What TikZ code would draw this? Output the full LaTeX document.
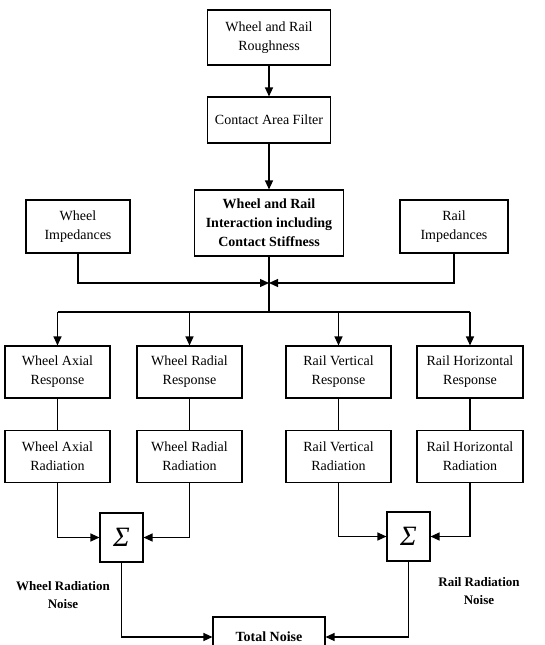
\documentclass[tikz,border=0pt]{standalone}
\usepackage{fontspec}
\setmainfont{Liberation Serif}
\usetikzlibrary{positioning,calc,arrows.meta}
\tikzset{>={Triangle[length=9pt,width=8pt]}}
\tikzset{block/.style={draw,line width=1.1pt,align=center,inner sep=2pt,
    font=\fontsize{14}{19}\selectfont},
  resp/.style={block,minimum width=105,minimum height=52},
  sumbox/.style={block,minimum width=43,minimum height=49,font=\fontsize{28}{28}\selectfont\itshape},
  note/.style={align=center,font=\fontsize{13}{18}\selectfont\bfseries}}

\begin{document}
\begin{tikzpicture}[x=1pt,y=-1pt,line width=1.2pt]
\useasboundingbox (0,0) rectangle (545,645);

% Top chain
\node[block,minimum width=123,minimum height=55] (rough) at (269,37.5) {Wheel and Rail\\Roughness};
\node[block,minimum width=123,minimum height=46] (filter) at (269,120) {Contact Area Filter};
\node[block,minimum width=149,minimum height=66,font=\fontsize{14}{19}\selectfont\bfseries] (inter) at (269,223)
  {Wheel and Rail\\Interaction including\\Contact Stiffness};

% Impedances
\node[block,minimum width=104,minimum height=53] (wimp) at (78,226.5) {Wheel\\Impedances};
\node[block,minimum width=108,minimum height=53] (rimp) at (454,226.5) {Rail\\Impedances};

% Responses
\node[resp] (waxr) at (57.5,372) {Wheel Axial\\Response};
\node[resp] (wradr) at (189.5,372) {Wheel Radial\\Response};
\node[resp] (rvertr) at (338.5,372) {Rail Vertical\\Response};
\node[resp,minimum width=106] (rhorr) at (470,372) {Rail Horizontal\\Response};

% Radiation
\node[resp] (waxd) at (57.5,456.5) {Wheel Axial\\Radiation};
\node[resp] (wradd) at (189.5,456.5) {Wheel Radial\\Radiation};
\node[resp] (rvertd) at (338.5,456.5) {Rail Vertical\\Radiation};
\node[resp,minimum width=106] (rhord) at (470,456.5) {Rail Horizontal\\Radiation};

% Summation and total
\node[sumbox] (sigL) at (121.5,537.5) {Σ};
\node[sumbox] (sigR) at (408.5,536.5) {Σ};
\node[block,minimum width=112,minimum height=40,font=\fontsize{14}{19}\selectfont\bfseries] (total) at (269,637) {Total Noise};

\node[note] (wnoise) at (63,595) {Wheel Radiation\\Noise};
\node[note] (rnoise) at (479,591) {Rail Radiation\\Noise};

% Connectors
\coordinate (merge) at (269,283);
\coordinate (bus) at (269,312);
\draw[->] (rough) -- (filter);
\draw[->] (filter) -- (inter);
\draw (inter) -- (bus);
\draw[->] (wimp) |- (merge);
\draw[->] (rimp) |- (merge);
\draw (bus -| waxr) -- (bus -| rhorr);
\foreach \n in {waxr,wradr,rvertr,rhorr}
  \draw[->] (bus -| \n) -- (\n);
\foreach \a/\b in {waxr/waxd,wradr/wradd,rvertr/rvertd,rhorr/rhord}
  \draw (\a) -- (\b);

\draw[->] (waxd) |- (sigL);
\draw[->] (wradd) |- (sigL);
\draw[->] (rvertd) |- (sigR);
\draw[->] (rhord) |- (sigR);
\draw[->] (sigL) |- (total);
\draw[->] (sigR) |- (total);
\end{tikzpicture}
\end{document}
